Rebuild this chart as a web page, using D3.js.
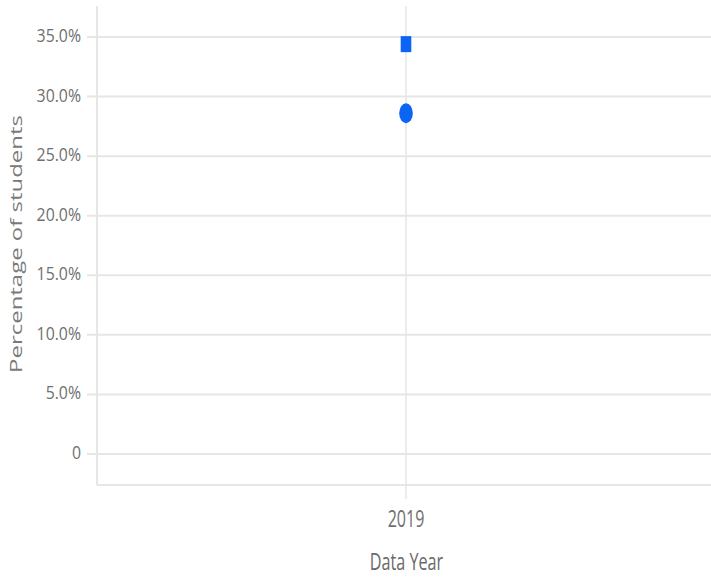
<!DOCTYPE html>
<html>
<head>
<meta charset="utf-8">
<script src="https://cdn.jsdelivr.net/npm/d3@7"></script>
<style>
  body { margin: 0; background: #fff; }
  svg { display: block; font-family: 'Open Sans', sans-serif; }
</style>
</head>
<body>
<svg id="chart" width="711" height="578"></svg>
<script>
// ===== data =====
var years = ['2019']
var squareSeries = [34.4] // square markers
var circleSeries = [28.6] // circle markers
var yTicks = [0, 5, 10, 15, 20, 25, 30, 35]

// ===== layout =====
var W = 711
var H = 578
var plotLeft = 97
var plotTop = 6
var plotBottom = 485

var svg = d3.select('#chart')

var x = d3.scalePoint()
  .domain(years)
  .range([plotLeft, 715])
  .padding(0.5)

var y = d3.scaleLinear()
  .domain([0, 35])
  .range([454, 37])

var fmt = function (d) { return d === 0 ? '0' : d3.format('.1f')(d) + '%' }

// horizontal grid lines
svg.append('g')
  .selectAll('line')
  .data(yTicks)
  .enter()
  .append('line')
  .attr('x1', 87)
  .attr('x2', W)
  .attr('y1', function (d) { return y(d) })
  .attr('y2', function (d) { return y(d) })
  .attr('stroke', '#e6e6e6')
  .attr('stroke-width', 2)

// y tick labels
svg.append('g')
  .selectAll('text')
  .data(yTicks)
  .enter()
  .append('text')
  .attr('transform', function (d) { return 'translate(81,' + (y(d) + 5) + ') scale(0.88,1)' })
  .attr('text-anchor', 'end')
  .attr('font-size', 18)
  .attr('fill', '#707070')
  .text(fmt)

// vertical line for each year
svg.append('g')
  .selectAll('line')
  .data(years)
  .enter()
  .append('line')
  .attr('x1', function (d) { return x(d) })
  .attr('x2', function (d) { return x(d) })
  .attr('y1', plotTop)
  .attr('y2', 499)
  .attr('stroke', '#e6e6e6')
  .attr('stroke-width', 1.5)

// axis frame (left + bottom)
svg.append('line')
  .attr('x1', plotLeft).attr('x2', plotLeft)
  .attr('y1', plotTop).attr('y2', plotBottom)
  .attr('stroke', '#e6e6e6').attr('stroke-width', 2)
svg.append('line')
  .attr('x1', plotLeft).attr('x2', W)
  .attr('y1', plotBottom).attr('y2', plotBottom)
  .attr('stroke', '#e6e6e6').attr('stroke-width', 2)

// x tick labels
svg.append('g')
  .selectAll('text')
  .data(years)
  .enter()
  .append('text')
  .attr('transform', function (d) { return 'translate(' + x(d) + ',527) scale(0.67,1)' })
  .attr('text-anchor', 'middle')
  .attr('font-size', 24)
  .attr('fill', '#707070')
  .text(function (d) { return d })

// axis titles
svg.append('text')
  .attr('transform', 'translate(' + (x(years[0]) + 0.5) + ',570) scale(0.66,1)')
  .attr('text-anchor', 'middle')
  .attr('font-size', 24.5)
  .attr('fill', '#6a6a6a')
  .text('Data Year')

svg.append('text')
  .attr('transform', 'translate(22,244) rotate(-90) scale(1.41,1)')
  .attr('text-anchor', 'middle')
  .attr('font-size', 17)
  .attr('fill', '#7a7a7a')
  .text('Percentage of students')

// ===== markers =====
var blue = '#0a64f4'

svg.append('g')
  .selectAll('rect')
  .data(squareSeries)
  .enter()
  .append('rect')
  .attr('x', function (d, i) { return x(years[i]) - 5.3 })
  .attr('y', function (d) { return y(d) - 8 })
  .attr('width', 10.6)
  .attr('height', 16)
  .attr('fill', blue)

svg.append('g')
  .selectAll('ellipse')
  .data(circleSeries)
  .enter()
  .append('ellipse')
  .attr('cx', function (d, i) { return x(years[i]) })
  .attr('cy', function (d) { return y(d) })
  .attr('rx', 6.8)
  .attr('ry', 10)
  .attr('fill', blue)
</script>
</body>
</html>
